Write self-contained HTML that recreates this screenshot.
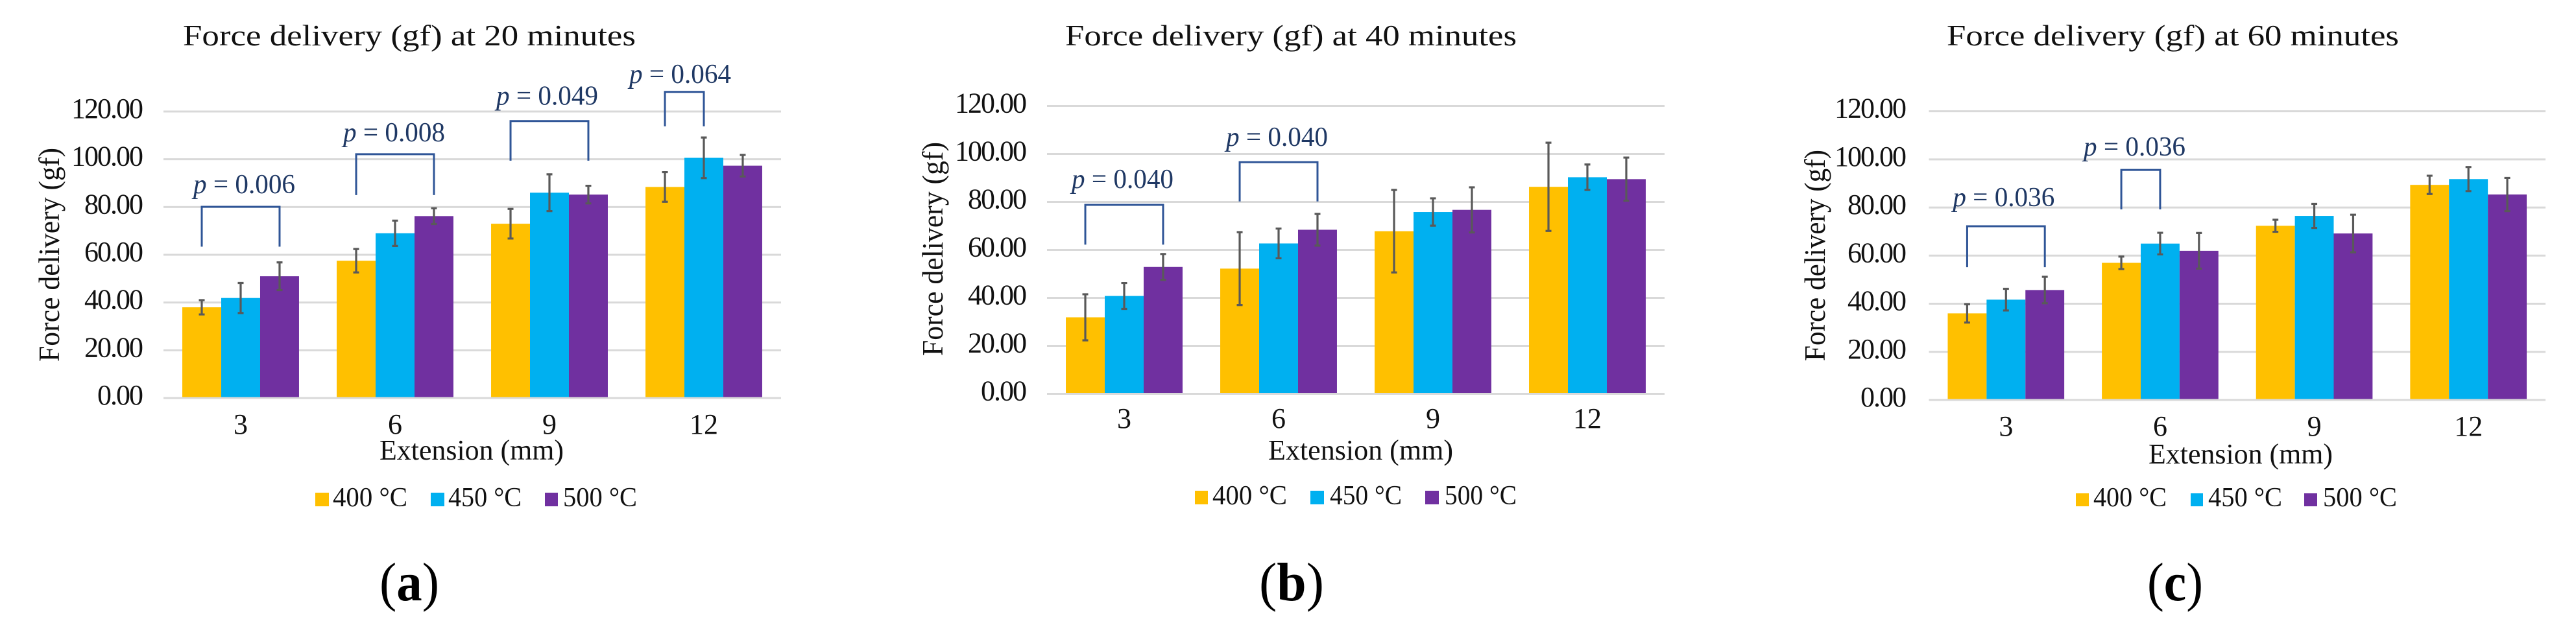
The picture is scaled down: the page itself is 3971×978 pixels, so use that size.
<!DOCTYPE html>
<html lang="en">
<head>
<meta charset="utf-8">
<title>Force delivery bar charts</title>
<style>
html,body{margin:0;padding:0;background:#fff;width:3971px;height:978px;overflow:hidden}
svg{display:block}
text{font-family:"Liberation Serif",serif;fill:#111}
.title{font-size:46px}
.axis-title{font-size:44px}
.ytick{font-size:44px;letter-spacing:-2px;text-anchor:end;fill:#111}
.xtick{font-size:44px;text-anchor:middle;fill:#111}
.legend{font-size:42px}
.plabel{font-size:42px;fill:#1f3864}
.panel-label{font-size:84px;fill:#000}
</style>
</head>
<body>
<svg id="figure" xmlns="http://www.w3.org/2000/svg" width="3971" height="978" viewBox="0 0 3971 978">
  <rect width="3971" height="978" fill="#fff"/>

  <g id="panel-a">
    <text class="title" x="282" y="70" textLength="698" lengthAdjust="spacingAndGlyphs">Force delivery (gf) at 20 minutes</text>
    <text class="title" transform="rotate(-90 91 393)" x="91" y="393" text-anchor="middle" textLength="330" lengthAdjust="spacingAndGlyphs">Force delivery (gf)</text>
    <text class="axis-title" x="585" y="709" textLength="284" lengthAdjust="spacingAndGlyphs">Extension (mm)</text>
    <rect x="486" y="760" width="21" height="21" fill="#ffc000"/>
    <text class="legend" x="513" y="781" textLength="115" lengthAdjust="spacingAndGlyphs">400 °C</text>
    <rect x="664" y="760" width="21" height="21" fill="#00b0f0"/>
    <text class="legend" x="691" y="781" textLength="113" lengthAdjust="spacingAndGlyphs">450 °C</text>
    <rect x="840" y="760" width="20" height="21" fill="#7030a0"/>
    <text class="legend" x="868" y="781" textLength="114" lengthAdjust="spacingAndGlyphs">500 °C</text>
    <text class="panel-label" x="585" y="926" textLength="92" lengthAdjust="spacingAndGlyphs">(<tspan font-weight="bold">a</tspan>)</text>
  </g>

  <g id="panel-b">
    <text class="title" x="1642" y="70" textLength="696" lengthAdjust="spacingAndGlyphs">Force delivery (gf) at 40 minutes</text>
    <text class="title" transform="rotate(-90 1453 384)" x="1453" y="384" text-anchor="middle" textLength="330" lengthAdjust="spacingAndGlyphs">Force delivery (gf)</text>
    <text class="axis-title" x="1955" y="709" textLength="285" lengthAdjust="spacingAndGlyphs">Extension (mm)</text>
    <rect x="1842" y="757" width="20" height="21" fill="#ffc000"/>
    <text class="legend" x="1869" y="778" textLength="115" lengthAdjust="spacingAndGlyphs">400 °C</text>
    <rect x="2020" y="757" width="21" height="21" fill="#00b0f0"/>
    <text class="legend" x="2050" y="778" textLength="111" lengthAdjust="spacingAndGlyphs">450 °C</text>
    <rect x="2197" y="757" width="21" height="21" fill="#7030a0"/>
    <text class="legend" x="2227" y="778" textLength="111" lengthAdjust="spacingAndGlyphs">500 °C</text>
    <text class="panel-label" x="1941" y="926" textLength="100" lengthAdjust="spacingAndGlyphs">(<tspan font-weight="bold">b</tspan>)</text>
  </g>

  <g id="panel-c">
    <text class="title" x="3001" y="70" textLength="697" lengthAdjust="spacingAndGlyphs">Force delivery (gf) at 60 minutes</text>
    <text class="title" transform="rotate(-90 2813 394)" x="2813" y="394" text-anchor="middle" textLength="326" lengthAdjust="spacingAndGlyphs">Force delivery (gf)</text>
    <text class="axis-title" x="3312" y="715" textLength="284" lengthAdjust="spacingAndGlyphs">Extension (mm)</text>
    <rect x="3200" y="761" width="20" height="20" fill="#ffc000"/>
    <text class="legend" x="3227" y="781" textLength="113" lengthAdjust="spacingAndGlyphs">400 °C</text>
    <rect x="3377" y="761" width="19" height="20" fill="#00b0f0"/>
    <text class="legend" x="3404" y="781" textLength="114" lengthAdjust="spacingAndGlyphs">450 °C</text>
    <rect x="3552" y="761" width="20" height="20" fill="#7030a0"/>
    <text class="legend" x="3581" y="781" textLength="114" lengthAdjust="spacingAndGlyphs">500 °C</text>
    <text class="panel-label" x="3310" y="926" textLength="86" lengthAdjust="spacingAndGlyphs">(<tspan font-weight="bold">c</tspan>)</text>
  </g>
</svg>

<script>
// Shared categories and axis ticks
const categories = ['3', '6', '9', '12'];
const seriesNames = ['400', '450', '500'];
const yTickValues = [0, 20, 40, 60, 80, 100, 120];

// Panel (a): 20 minutes
const a400 = [38.0, 57.5, 73.0, 88.4];
const a450 = [41.9, 69.0, 86.0, 100.6];
const a500 = [51.0, 76.2, 85.2, 97.3];
const a400Err = [3.0, 4.9, 6.2, 6.2];
const a450Err = [6.3, 5.3, 7.7, 8.5];
const a500Err = [5.8, 3.3, 3.7, 4.5];
const aSigGroup = [0, 1, 2, 3];
const aSigEndSeries = [2, 2, 2, 1];
const aSigTop = [80.1, 102.1, 116.0, 128.2];
const aSigLeg = [63.4, 85.0, 99.4, 113.8];
const aSigLabels = ['0.006', '0.008', '0.049', '0.064'];

// Panel (b): 40 minutes
const b400 = [31.9, 52.2, 67.8, 86.3];
const b450 = [40.8, 62.7, 75.8, 90.3];
const b500 = [52.9, 68.4, 76.7, 89.5];
const b400Err = [9.6, 15.2, 17.2, 18.4];
const b450Err = [5.4, 6.2, 5.7, 5.3];
const b500Err = [5.4, 6.6, 9.4, 9.0];
const bSigGroup = [0, 1];
const bSigEndSeries = [2, 2];
const bSigTop = [78.8, 96.6];
const bSigLeg = [62.2, 80.2];
const bSigLabels = ['0.040', '0.040'];

// Panel (c): 60 minutes
const c400 = [36.0, 57.0, 72.4, 89.4];
const c450 = [41.7, 65.0, 76.5, 91.8];
const c500 = [45.7, 62.0, 69.2, 85.4];
const c400Err = [3.8, 2.6, 2.5, 3.8];
const c450Err = [4.5, 4.5, 5.0, 5.0];
const c500Err = [5.5, 7.4, 7.8, 6.9];
const cSigGroup = [0, 1];
const cSigEndSeries = [2, 1];
const cSigTop = [72.2, 95.6];
const cSigLeg = [55.2, 79.2];
const cSigLabels = ['0.036', '0.036'];

const SVG_NS = 'http://www.w3.org/2000/svg';
const seriesColors = ['#ffc000', '#00b0f0', '#7030a0'];

function drawPanel(panelId, frame, seriesValues, seriesErrors, sig) {
  const panel = document.getElementById(panelId);
  const band = (frame.right - frame.left) / categories.length;
  const barW = band * 0.252;
  const groupPad = (band - barW * seriesValues.length) / 2;
  const pxPerUnit = (frame.y0 - frame.y120) / 120;
  const yOf = function (v) { return frame.y0 - v * pxPerUnit; };
  const barLeft = function (g, s) { return frame.left + g * band + groupPad + s * barW; };
  const barCenter = function (g, s) { return barLeft(g, s) + barW / 2; };

  yTickValues.forEach(function (t) {
    const line = document.createElementNS(SVG_NS, 'line');
    
    
    line.setAttribute('x1', frame.left);
    line.setAttribute('x2', frame.right);
    line.setAttribute('y1', yOf(t));
    line.setAttribute('y2', yOf(t));
    line.setAttribute('stroke', '#d9d9d9');
    line.setAttribute('stroke-width', '3');
    panel.appendChild(line);

    const label = document.createElementNS(SVG_NS, 'text');
    
    
    label.setAttribute('class', 'ytick');
    label.setAttribute('x', frame.tickRight);
    label.setAttribute('y', yOf(t) + 10);
    label.textContent = t.toFixed(2);
    panel.appendChild(label);
  });

  categories.forEach(function (cat, g) {
    const label = document.createElementNS(SVG_NS, 'text');
    
    
    label.setAttribute('class', 'xtick');
    label.setAttribute('x', frame.left + (g + 0.5) * band);
    label.setAttribute('y', frame.xTickBase);
    label.textContent = cat;
    panel.appendChild(label);

    seriesValues.forEach(function (values, s) {
      const rect = document.createElementNS(SVG_NS, 'rect');
      
      
      rect.setAttribute('x', barLeft(g, s));
      rect.setAttribute('y', yOf(values[g]));
      rect.setAttribute('width', barW);
      rect.setAttribute('height', frame.y0 - 1.5 - yOf(values[g]));
      rect.setAttribute('fill', seriesColors[s]);
      panel.appendChild(rect);
    });
  });

  categories.forEach(function (cat, g) {
    seriesValues.forEach(function (values, s) {
      const hi = yOf(values[g] + seriesErrors[s][g]);
      const lo = yOf(values[g] - seriesErrors[s][g]);
      const cx = barCenter(g, s);
      const err = document.createElementNS(SVG_NS, 'path');
      
      
      err.setAttribute('d', 'M' + (cx - 4.5) + ' ' + hi + 'H' + (cx + 4.5) + 'M' + cx + ' ' + hi + 'V' + lo + 'M' + (cx - 4.5) + ' ' + lo + 'H' + (cx + 4.5));
      err.setAttribute('stroke', '#595959');
      err.setAttribute('stroke-width', '3.2');
      err.setAttribute('fill', 'none');
      panel.appendChild(err);
    });
  });

  sig.groups.forEach(function (g, i) {
    const x1 = barCenter(g, 0);
    const x2 = barCenter(g, sig.endSeries[i]);
    const yTop = yOf(sig.top[i]);
    const yLeg = yOf(sig.leg[i]);
    const bracket = document.createElementNS(SVG_NS, 'path');
    
    
    bracket.setAttribute('d', 'M' + x1 + ' ' + yLeg + 'V' + yTop + 'H' + x2 + 'V' + yLeg);
    bracket.setAttribute('stroke', '#2f5597');
    bracket.setAttribute('stroke-width', '3');
    bracket.setAttribute('fill', 'none');
    panel.appendChild(bracket);

    const text = document.createElementNS(SVG_NS, 'text');
    
    
    text.setAttribute('class', 'plabel');
    text.setAttribute('x', (x1 + x2) / 2 - 78 + sig.labelDx[i]);
    text.setAttribute('y', yTop - sig.labelGap[i]);
    text.setAttribute('textLength', '157');
    text.setAttribute('lengthAdjust', 'spacingAndGlyphs');
    const italic = document.createElementNS(SVG_NS, 'tspan');
    italic.setAttribute('font-style', 'italic');
    italic.textContent = 'p';
    text.appendChild(italic);
    text.appendChild(document.createTextNode(' = ' + sig.labels[i]));
    panel.appendChild(text);
  });
}

drawPanel('panel-a',
  { left: 252, right: 1204, y0: 614, y120: 172, tickRight: 219, xTickBase: 669 },
  [a400, a450, a500], [a400Err, a450Err, a500Err],
  { groups: aSigGroup, endSeries: aSigEndSeries, top: aSigTop, leg: aSigLeg, labels: aSigLabels,
    labelDx: [5, -2, -4, -7], labelGap: [21, 20, 25, 14] });

drawPanel('panel-b',
  { left: 1614, right: 2566, y0: 607.5, y120: 163.5, tickRight: 1581, xTickBase: 660 },
  [b400, b450, b500], [b400Err, b450Err, b500Err],
  { groups: bSigGroup, endSeries: bSigEndSeries, top: bSigTop, leg: bSigLeg, labels: bSigLabels,
    labelDx: [-3, -3], labelGap: [26, 25] });

drawPanel('panel-c',
  { left: 2973.5, right: 3924, y0: 617, y120: 171.6, tickRight: 2937, xTickBase: 672 },
  [c400, c450, c500], [c400Err, c450Err, c500Err],
  { groups: cSigGroup, endSeries: cSigEndSeries, top: cSigTop, leg: cSigLeg, labels: cSigLabels,
    labelDx: [-4, -10], labelGap: [31, 22] });
</script>
</body>
</html>
